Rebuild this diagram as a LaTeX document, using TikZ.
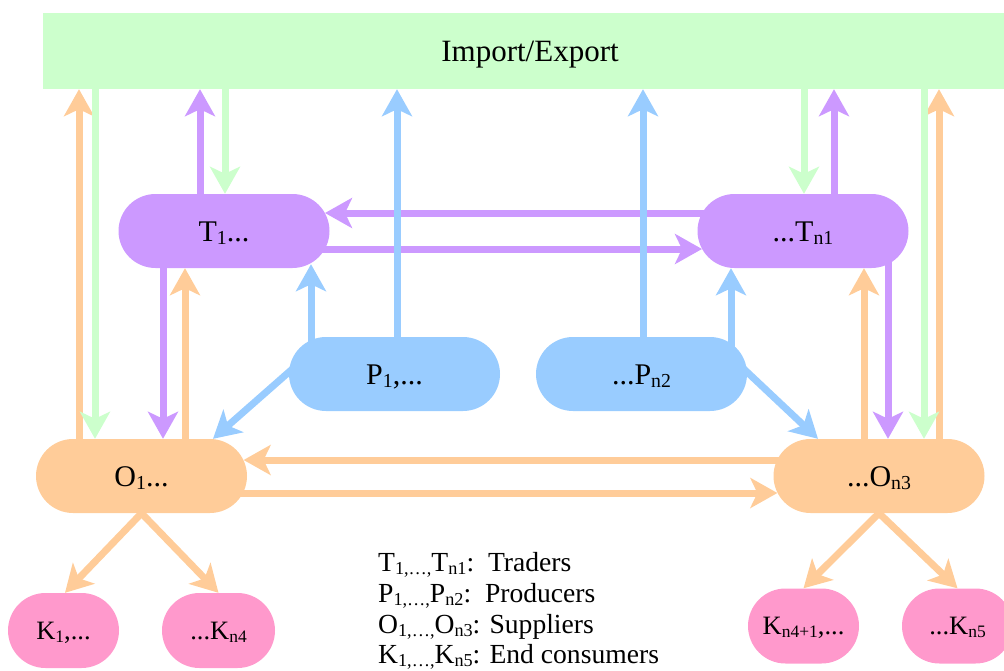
\documentclass[tikz,border=0pt]{standalone}
\usepackage{fontspec}
\usepackage{graphicx}
\setmainfont{Liberation Serif}
\usetikzlibrary{arrows.meta,backgrounds}
\definecolor{cpur}{HTML}{CC99FF}
\definecolor{cgre}{HTML}{CCFFCC}
\definecolor{cora}{HTML}{FFCC99}
\definecolor{cblu}{HTML}{99CCFF}
\definecolor{cpin}{HTML}{FF99CC}
\newcommand\nodefnt{\fontsize{30}{34}\selectfont}
\newcommand\kfnt{\fontsize{26.5}{30}\selectfont}
\newcommand\legfnt{\fontsize{27.6}{31}\selectfont}
\newcommand\sbs[1]{\raisebox{-0.12em}{\scalebox{0.66}{#1}}}
\begin{document}
\begin{tikzpicture}[x=1pt,y=-1pt,
  stad/.style={rounded corners=37pt, minimum width=211pt, minimum height=74pt,
    inner sep=0pt, font=\nodefnt, text height=20pt, text depth=0pt},
  kbox/.style={rounded corners=37.5pt, minimum width=111pt, minimum height=75pt,
    inner sep=0pt, font=\kfnt, fill=cpin, text height=17.5pt, text depth=0pt},
  arr/.style={line width=7pt, -{Stealth[length=27pt,width=30pt,inset=7pt]}},
  oarr/.style={arr, draw=cora, fill=cora},
  garr/.style={arr, draw=cgre, fill=cgre},
  parr/.style={arr, draw=cpur, fill=cpur},
  barr/.style={arr, draw=cblu, fill=cblu},
  leg/.style={anchor=base west, inner sep=0pt, font=\legfnt}]
\useasboundingbox (0,0) rectangle (1004,670);
\node[fill=cgre, minimum width=974pt, minimum height=76pt, inner sep=0pt,
  font=\fontsize{31}{35}\selectfont, text height=20.5pt, text depth=0pt]
  (IE) at (530,51) {Import/Export};
\node[stad, fill=cpur] (T1) at (224,231) {T\sbs{1}...};
\node[stad, fill=cpur] (Tn1) at (803,231) {...T\sbs{n1}};
\node[stad, fill=cblu] (P1) at (394.5,374) {P\sbs{1},...};
\node[stad, fill=cblu] (Pn2) at (641.5,374) {...P\sbs{n2}};
\node[stad, fill=cora] (O1) at (141.5,476) {O\sbs{1}...};
\node[stad, fill=cora] (On3) at (879,476) {...O\sbs{n3}};
\node[kbox] (K1) at (63.5,630.5) {K\sbs{1},...};
\node[kbox, minimum width=113pt] (Kn4) at (218.5,630.5) {...K\sbs{n4}};
\node[kbox] (Kn41) at (803.5,626) {K\sbs{n4+1},...};
\node[kbox] (Kn5) at (957.5,626) {...K\sbs{n5}};
\node[leg] (leg1) at (378,571.5) {T\sbs{1,\ldots,}T\sbs{n1}:~~Traders};
\node[leg] (leg2) at (378,602.5) {P\sbs{1,\ldots,}P\sbs{n2}:~~Producers};
\node[leg] (leg3) at (378,633.5) {O\sbs{1,\ldots,}O\sbs{n3}: Suppliers};
\node[leg] (leg4) at (378,663.5) {K\sbs{1,\ldots,}K\sbs{n5}: End consumers};
\begin{pgfonlayer}{background}
% orange
\draw[oarr] ([xshift=-62.5pt]O1.north) -- ([xshift=-451pt]IE.south);
\draw[oarr] ([xshift=60pt]On3.north) -- ([xshift=409pt]IE.south);
\draw[oarr] ([xshift=43.5pt]O1.north) -- ([xshift=-39pt]T1.south);
\draw[oarr] ([xshift=-15pt]On3.north) -- ([xshift=61pt]Tn1.south);
\draw[oarr] ([xshift=10pt,yshift=16pt]On3.west) -- ([xshift=-3.6pt,yshift=16pt]O1.east);
\draw[oarr] ([xshift=-10pt,yshift=-17pt]O1.east) -- ([xshift=4.1pt,yshift=-17pt]On3.west);
\draw[oarr] (O1.south) -- ([xshift=1.5pt]K1.north);
\draw[oarr] (O1.south) -- (Kn4.north);
\draw[oarr] (On3.south) -- (Kn41.north);
\draw[oarr] (On3.south) -- (Kn5.north);
% green
\draw[garr] ([xshift=-435pt]IE.south) -- ([xshift=-46.5pt]O1.north);
\draw[garr] ([xshift=-305pt]IE.south) -- ([xshift=1pt]T1.north);
\draw[garr] ([xshift=274pt]IE.south) -- ([xshift=1pt]Tn1.north);
\draw[garr] ([xshift=394pt]IE.south) -- ([xshift=45pt]On3.north);
% purple
\draw[parr] ([xshift=-24pt]T1.north) -- ([xshift=-330pt]IE.south);
\draw[parr] ([xshift=31pt]Tn1.north) -- ([xshift=304pt]IE.south);
\draw[parr] ([xshift=10pt,yshift=18pt]Tn1.west) -- ([xshift=-4.7pt,yshift=18pt]T1.east);
\draw[parr] ([xshift=-10pt,yshift=-18pt]T1.east) -- ([xshift=4.7pt,yshift=-18pt]Tn1.west);
\draw[parr] ([xshift=-61pt]T1.south) -- ([xshift=21.5pt]O1.north);
\draw[parr] ([xshift=85pt]Tn1.center) -- ([xshift=9pt]On3.north);
% blue
\draw[barr] ([xshift=2.5pt]P1.north) -- ([xshift=-133pt]IE.south);
\draw[barr] ([xshift=1.5pt]Pn2.north) -- ([xshift=113pt]IE.south);
\draw[barr] ([xshift=-83.5pt]P1.center) -- ([xshift=87pt,yshift=4pt]T1.south);
\draw[barr] ([xshift=89.5pt]Pn2.center) -- ([xshift=-72pt]Tn1.south);
\draw[barr] ([xshift=11.3pt,yshift=11.8pt]P1.west) -- ([xshift=71.5pt]O1.north);
\draw[barr] ([xshift=-11pt,yshift=12.2pt]Pn2.east) -- ([xshift=-61pt]On3.north);
\end{pgfonlayer}
\end{tikzpicture}
\end{document}
